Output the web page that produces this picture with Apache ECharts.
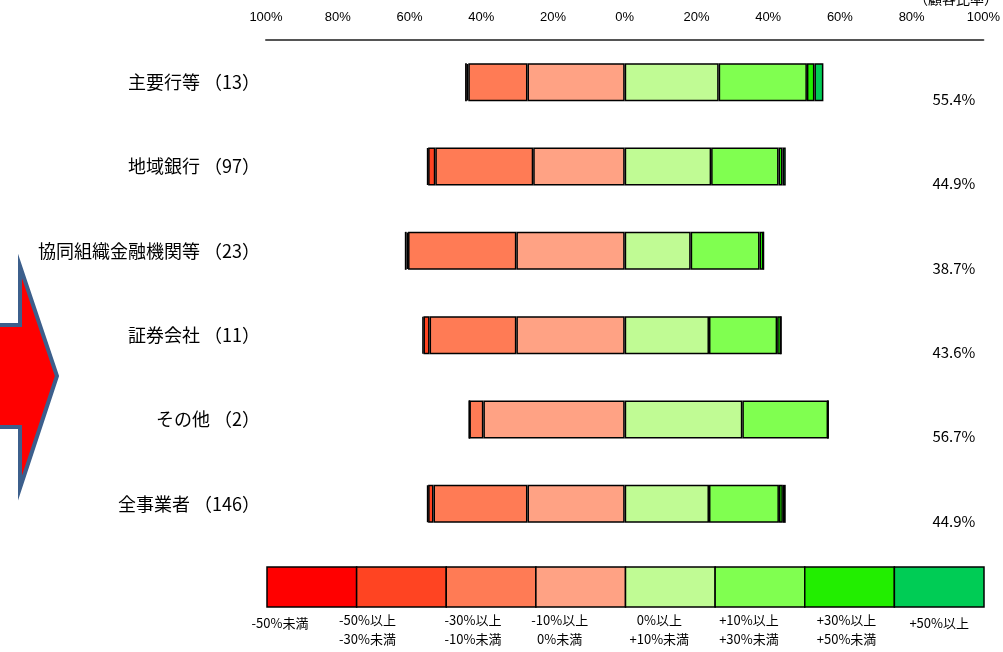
<!DOCTYPE html>
<html>
<head>
<meta charset="utf-8">
<script src="https://cdn.jsdelivr.net/npm/echarts@6/dist/echarts.min.js"></script>
<style>
  html, body { margin: 0; padding: 0; background: #fff; }
  #chart { width: 1003px; height: 652px; }
</style>
</head>
<body>
<div id="chart"></div>
<script>
// 業態（件数）
const categories = ['主要行等 （13）', '地域銀行 （97）', '協同組織金融機関等 （23）', '証券会社 （11）', 'その他 （2）', '全事業者 （146）'];
const rightLabels = ['55.4%', '44.9%', '38.7%', '43.6%', '56.7%', '44.9%'];

// 顧客比率（%）
const under50m   = [0.5, 0.3, 0.5, 0.3, 0, 0.3];
const m50to30    = [0.4, 2.0, 0.4, 1.7, 0, 1.5];
const m30to10    = [16.5, 27.3, 30.2, 24.2, 3.9, 26.2];
const m10to0     = [27.1, 25.5, 30.2, 30.2, 39.4, 27.1];
const p0to10     = [26.2, 24.1, 18.4, 23.5, 32.8, 23.5];
const p10to30    = [24.6, 18.8, 19.2, 19.0, 23.9, 19.5];
const p30to50    = [2.1, 1.1, 1.1, 1.1, 0, 1.1];
const over50p    = [2.5, 0.9, 0, 0, 0, 0.8];

const legendNames = ['-50%未満', '-50%以上\n-30%未満', '-30%以上\n-10%未満', '-10%以上\n0%未満',
  '0%以上\n+10%未満', '+10%以上\n+30%未満', '+30%以上\n+50%未満', '+50%以上'];
const colors = ['#ff0000', '#ff4422', '#ff7b55', '#ffa284', '#c0fb94', '#80ff50', '#22ee00', '#00cc55'];

const FONT = '"Noto Sans CJK JP", sans-serif';
const chart = echarts.init(document.getElementById('chart'));

// 0に近い方から外側へ積み上げ
const seriesDefs = [
  { data: m10to0, color: colors[3], neg: true },
  { data: m30to10, color: colors[2], neg: true },
  { data: m50to30, color: colors[1], neg: true },
  { data: under50m, color: colors[0], neg: true },
  { data: p0to10, color: colors[4] },
  { data: p10to30, color: colors[5] },
  { data: p30to50, color: colors[6] },
  { data: over50p, color: colors[7] }
];

const series = seriesDefs.map(d => ({
  type: 'bar',
  stack: 'all',
  barWidth: 38,
  data: d.data.map(v => d.neg ? -v : v),
  itemStyle: { color: d.color, borderColor: '#000', borderWidth: 1.5 },
  emphasis: { disabled: true },
  silent: true
}));

// 凡例（下部のカラーバー）
const legendLeft = 267, legendRight = 984, legendTop = 567, legendH = 40;
const cellW = (legendRight - legendLeft) / colors.length;
const labelShift = [0, -34, -18, -21, -11, -11, -3, 0];
const graphics = [];
colors.forEach((c, i) => {
  graphics.push({
    type: 'rect',
    shape: { x: legendLeft + i * cellW, y: legendTop, width: cellW, height: legendH },
    style: { fill: c, stroke: '#000', lineWidth: 1.5 }
  });
  const twoLine = legendNames[i].indexOf('\n') >= 0;
  graphics.push({
    type: 'text',
    x: i === 0 ? 280 : legendLeft + i * cellW + cellW / 2 + labelShift[i],
    y: legendTop + legendH + (twoLine ? 4 : 7),
    style: {
      text: legendNames[i], fill: '#000', font: '13px ' + FONT,
      align: 'center', lineHeight: 19
    }
  });
});
// 左の矢印
graphics.push({
  type: 'polygon',
  shape: { points: [[-5, 325], [20, 325], [20, 266], [57, 376], [20, 488], [20, 427], [-5, 427]] },
  style: { fill: '#ff0000', stroke: '#3c5f8c', lineWidth: 4 }
});
graphics.push({
  type: 'text', right: 5, top: -8,
  style: { text: '（顧客比率）', fill: '#000', font: '14px ' + FONT }
});

chart.setOption({
  animation: false,
  grid: { left: 266, right: 18, top: 40, bottom: 106 },
  xAxis: {
    type: 'value', position: 'top', min: -100, max: 100, interval: 20,
    axisLine: { show: true, lineStyle: { color: '#555', width: 2 } },
    axisTick: { show: false },
    splitLine: { show: false },
    axisLabel: {
      formatter: v => Math.abs(v) + '%', margin: 16,
      fontFamily: '"Liberation Sans Narrow", "Liberation Sans", sans-serif', fontSize: 13, color: '#000'
    }
  },
  yAxis: [
    {
      type: 'category', data: categories, inverse: true,
      axisLine: { show: false }, axisTick: { show: false },
      axisLabel: { fontFamily: FONT, fontSize: 18, color: '#000', margin: 6 }
    },
    {
      type: 'category', data: rightLabels, inverse: true, position: 'right',
      axisLine: { show: false }, axisTick: { show: false },
      axisLabel: {
        inside: true, margin: 8,
        formatter: v => '{a|' + v + '}',
        rich: { a: { fontFamily: FONT, fontSize: 15, color: '#000', padding: [34, 0, 0, 0] } }
      }
    }
  ],
  series: series,
  graphic: graphics
});
</script>
</body>
</html>
